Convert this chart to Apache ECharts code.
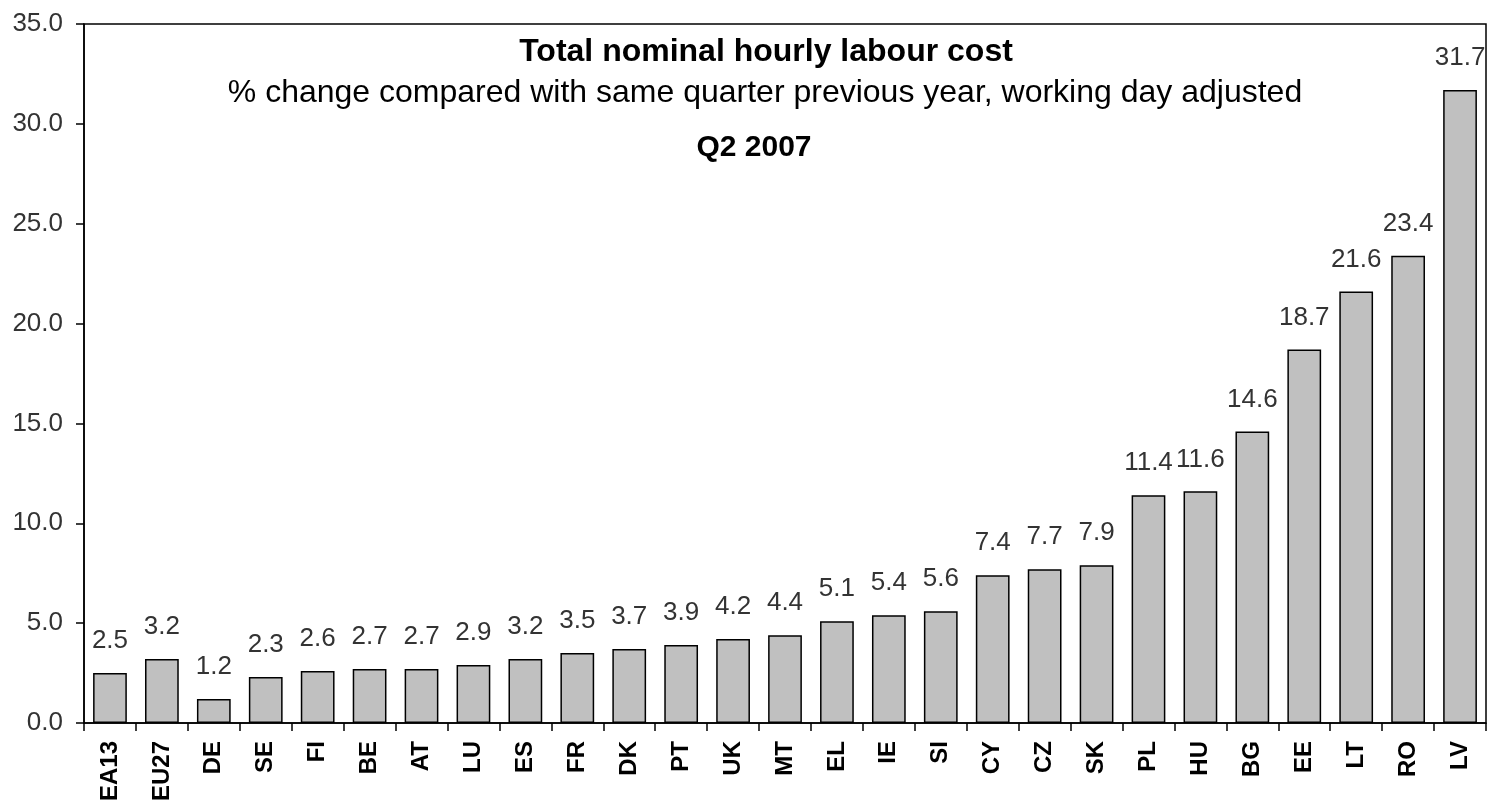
<!DOCTYPE html>
<html>
<head>
<meta charset="utf-8">
<script src="https://cdn.jsdelivr.net/npm/echarts@6/dist/echarts.min.js"></script>
<style>
html,body{margin:0;padding:0;background:#fff;}
#c{width:1492px;height:808px;}
</style>
</head>
<body>
<div id="c"></div>
<script>
const categories = ['EA13','EU27','DE','SE','FI','BE','AT','LU','ES','FR','DK','PT','UK','MT','EL','IE','SI','CY','CZ','SK','PL','HU','BG','EE','LT','RO','LV'];
const values = [2.5,3.2,1.2,2.3,2.6,2.7,2.7,2.9,3.2,3.5,3.7,3.9,4.2,4.4,5.1,5.4,5.6,7.4,7.7,7.9,11.4,11.6,14.6,18.7,21.6,23.4,31.7];
const titleText = 'Total nominal hourly labour cost';
const subtitleText = '% change compared with same quarter previous year, working day adjusted';
const periodText = 'Q2 2007';

const font = '"Liberation Sans", Arial, sans-serif';
const chart = echarts.init(document.getElementById('c'), null, {renderer:'canvas'});
function txt(t, x, y, f) {
  return {type:'text', x:x, y:y, style:{text:t, font:f, fill:'#000', align:'center', verticalAlign:'middle', textAlign:'center', textVerticalAlign:'middle'}};
}
chart.setOption({
  animation: false,
  backgroundColor: '#fff',
  graphic: [
    txt(titleText, 766, 52.5, 'bold 32px ' + font),
    txt(subtitleText, 765, 93.5, '32px ' + font),
    txt(periodText, 754, 148, 'bold 30px ' + font)
  ],
  grid: {left:84, right:6, top:24, bottom:85, show:true, borderColor:'#000', borderWidth:1.5, backgroundColor:'transparent'},
  xAxis: {
    type:'category', data:categories,
    axisLine:{lineStyle:{color:'#000', width:1.5}},
    axisTick:{show:true, alignWithLabel:false, length:8, lineStyle:{color:'#000', width:1.5}},
    axisLabel:{rotate:90, margin:18, fontFamily:font, fontWeight:'bold', fontSize:24, color:'#000', interval:0}
  },
  yAxis: {
    type:'value', min:0, max:35, interval:5,
    axisLine:{show:true, lineStyle:{color:'#000', width:1.5}},
    axisTick:{show:true, length:8, lineStyle:{color:'#000', width:1.5}},
    splitLine:{show:false},
    axisLabel:{margin:21, fontFamily:font, fontSize:26, color:'#333', formatter:v=>v.toFixed(1)}
  },
  series: [{
    type:'bar', data:values, barWidth:'65%',
    itemStyle:{color:'#c0c0c0', borderColor:'#000', borderWidth:1.5},
    label:{show:true, position:'top', distance:19, fontFamily:font, fontSize:26, color:'#333', formatter:p=>p.value.toFixed(1)}
  }]
});
</script>
</body>
</html>
